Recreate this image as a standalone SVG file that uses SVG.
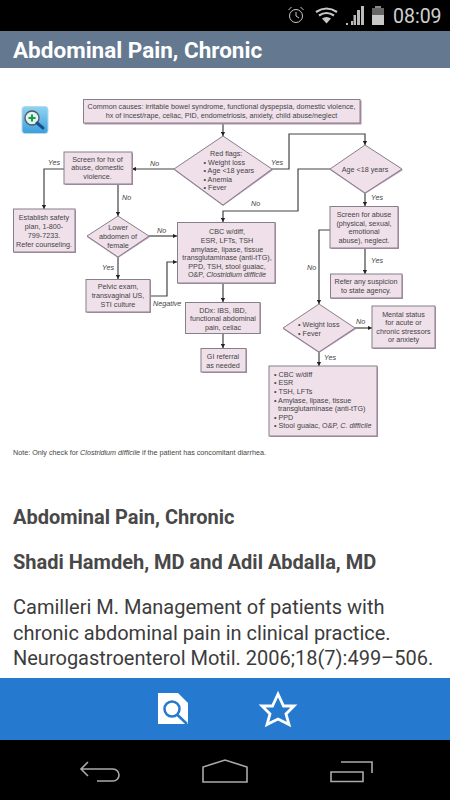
<svg xmlns="http://www.w3.org/2000/svg" width="450" height="800" viewBox="0 0 450 800">
<style>
.n{fill:#efe0ea;stroke:#85808a;stroke-width:1}
.s{fill:#b58fb0}
.t{font-family:"Liberation Sans",Arial,sans-serif;font-size:7.2px;fill:#444;text-anchor:middle}
.l{text-anchor:start}
.y{font-family:"Liberation Sans",Arial,sans-serif;font-size:7.2px;font-style:italic;fill:#444}
.c{fill:none;stroke:#444;stroke-width:1.2}
.r{font-family:Roboto,sans-serif;fill:#3c3c3c}
.h{font-size:20px;font-weight:700;fill:#484848}
.nav{fill:none;stroke:#aaa;stroke-width:1.6}
</style>
<defs>
<marker id="a" markerWidth="5" markerHeight="5" refX="4" refY="2.5" orient="auto" markerUnits="userSpaceOnUse"><path d="M0 0.4L4 2.5L0 4.6z" fill="#222"/></marker>
<linearGradient id="ig" x1="0" y1="0" x2="0" y2="1"><stop offset="0" stop-color="#8fd4f4"/><stop offset="1" stop-color="#3b9fdc"/></linearGradient>
</defs>
<rect width="450" height="800" fill="#fff"/>
<g id="statusbar">
<rect width="450" height="31" fill="#000"/>
<g fill="none" stroke="#c8c8c8" stroke-width="1"><circle cx="296" cy="16" r="6.500"/><path d="M296 12v4l3 2M288.500 10l3-3M303.500 10l-3-3"/></g>
<g fill="none" stroke="#c8c8c8" stroke-width="2.200"><path d="M316 12Q326.500 5 337 12"/><path d="M319 15.500Q326.500 10.500 334 15.500"/></g>
<path d="M322 18.500Q326.500 15.500 331 18.500L326.500 23.500z" fill="#c8c8c8"/>
<path d="M346 25h2v-2h-2zM349 25h2v-4h2v4zM353.500 25h2.500v-10h-2.500zM357 25h3v-15h-3zM361 25h3v-19h-3z" fill="#bbb"/>
<rect x="372" y="8" width="12" height="17" fill="#c8c8c8"/><rect x="372" y="8" width="12" height="7" fill="#666"/><rect x="375" y="6" width="6" height="2" fill="#888"/>
<text x="393" y="23" font-family="Roboto,sans-serif" font-size="19.500" fill="#d0d0d0">08:09</text>
</g>
<g id="titlebar">
<rect y="31" width="450" height="37" fill="#64788f"/>
<text x="13" y="58" font-family="Roboto,sans-serif" font-weight="700" font-size="22.500" fill="#fff">Abdominal Pain, Chronic</text>
</g>
<g id="zoom-icon">
<rect x="22" y="106.500" width="26" height="27" rx="3" fill="url(#ig)" stroke="#b9d8ea"/>
<circle cx="32" cy="118" r="7" fill="#dff3f7" stroke="#555" stroke-width="1.300"/>
<path d="M37 123l6 5" stroke="#1c4f8a" stroke-width="3" stroke-linecap="round"/>
<path d="M32 114.500v7M28.500 118h7" stroke="#17a03a" stroke-width="2"/>
</g>
<g id="connectors">
<path class="c" d="M223 123V136" marker-end="url(#a)"/>
<path class="c" d="M174 169H132" marker-end="url(#a)"/>
<path class="c" d="M64 169H44V209" marker-end="url(#a)"/>
<path class="c" d="M118 184V216" marker-end="url(#a)"/>
<path class="c" d="M149 236H177" marker-end="url(#a)"/>
<path class="c" d="M118 257V279" marker-end="url(#a)"/>
<path class="c" d="M150 296H167V262H177" marker-end="url(#a)"/>
<path class="c" d="M272 169H289V134H365V145" marker-end="url(#a)"/>
<path class="c" d="M330 169H298V211H223V222" marker-end="url(#a)"/>
<path class="c" d="M365 193V206" marker-end="url(#a)"/>
<path class="c" d="M365 248V274" marker-end="url(#a)"/>
<path class="c" d="M330 230H319V304" marker-end="url(#a)"/>
<path class="c" d="M223 283V302" marker-end="url(#a)"/>
<path class="c" d="M223 333V348" marker-end="url(#a)"/>
<path class="c" d="M355 328H372" marker-end="url(#a)"/>
<path class="c" d="M319 352V366" marker-end="url(#a)"/>
</g>
<g id="edge-labels" class="y">
<text x="48" y="165">Yes</text><text x="150" y="166">No</text><text x="122" y="200">No</text>
<text x="157" y="233">No</text><text x="102" y="270">Yes</text><text x="153" y="306">Negative</text>
<text x="271" y="165">Yes</text><text x="251" y="206">No</text><text x="371" y="200">Yes</text>
<text x="371" y="263">Yes</text><text x="307" y="270">No</text><text x="356" y="324">No</text><text x="324" y="360">Yes</text>
</g>
<g id="n-causes"><rect class="s" x="84.500" y="100.500" width="277" height="24"/><rect class="n" x="83.500" y="99.500" width="276.500" height="23.500"/>
<text class="t" x="221.500" y="109">Common causes: irritable bowel syndrome, functional dyspepsia, domestic violence,</text>
<text class="t" x="221.500" y="118">hx of incest/rape, celiac, PID, endometriosis, anxiety, child abuse/neglect</text></g>
<g id="n-redflags"><path class="s" d="M174 170L223 137L273 170L223 206z"/><path class="n" d="M174 169L223 136L272 169L223 205z"/>
<text class="t l" x="210" y="156">Red flags:</text><text class="t l" x="203.500" y="164.500">• Weight loss</text><text class="t l" x="203.500" y="173">• Age &lt;18 years</text><text class="t l" x="203.500" y="181.500">• Anemia</text><text class="t l" x="203.500" y="190">• Fever</text></g>
<g id="n-screen-hx"><rect class="s" x="65" y="153" width="68" height="32"/><rect class="n" x="64" y="152" width="68" height="32"/>
<text class="t" x="97.500" y="161.500">Screen for hx of</text><text class="t" x="97.500" y="170">abuse, domestic</text><text class="t" x="97.500" y="179">violence.</text></g>
<g id="n-safety"><rect class="s" x="14" y="210" width="62" height="43"/><rect class="n" x="13.500" y="209" width="61.500" height="43"/>
<text class="t" x="44" y="220">Establish safety</text><text class="t" x="44" y="229">plan, 1-800-</text><text class="t" x="44" y="237.500">799-7233.</text><text class="t" x="44" y="246.500">Refer counseling.</text></g>
<g id="n-lower"><path class="s" d="M87 237L118 217L150 237L118 258z"/><path class="n" d="M87 236L118 216L149 236L118 257z"/>
<text class="t" x="118" y="230">Lower</text><text class="t" x="118" y="239">abdomen of</text><text class="t" x="118" y="248">female</text></g>
<g id="n-cbc"><rect class="s" x="178" y="223" width="98" height="61"/><rect class="n" x="177.500" y="222.500" width="97.500" height="60.500"/>
<text class="t" x="227" y="234">CBC w/diff,</text><text class="t" x="227" y="243">ESR, LFTs, TSH</text><text class="t" x="227" y="251.500">amylase, lipase, tissue</text><text class="t" x="227" y="260">transglutaminase (anti-tTG),</text><text class="t" x="227" y="268.500">PPD, TSH, stool guaiac,</text><text class="t" x="227" y="277">O&amp;P, <tspan font-style="italic">Clostridium difficile</tspan></text></g>
<g id="n-pelvic"><rect class="s" x="87" y="280" width="64" height="33"/><rect class="n" x="86" y="279.500" width="64" height="32.500"/>
<text class="t" x="118" y="289">Pelvic exam,</text><text class="t" x="118" y="298">transvaginal US,</text><text class="t" x="118" y="306.500">STI culture</text></g>
<g id="n-ddx"><rect class="s" x="186" y="303" width="75" height="31"/><rect class="n" x="185.500" y="302.500" width="74.500" height="31"/>
<text class="t" x="223" y="312.500">DDx: IBS, IBD,</text><text class="t" x="223" y="321">functional abdominal</text><text class="t" x="223" y="330">pain, celiac</text></g>
<g id="n-gi"><rect class="s" x="202" y="349" width="45" height="24"/><rect class="n" x="201" y="348.500" width="45" height="23.500"/>
<text class="t" x="223" y="359">GI referral</text><text class="t" x="223" y="368">as needed</text></g>
<g id="n-age"><path class="s" d="M330 170L365 146L403 170L365 194z"/><path class="n" d="M330 169L365 145L402 169L365 193z"/>
<text class="t" x="365" y="172">Age &lt;18 years</text></g>
<g id="n-screen-abuse"><rect class="s" x="331" y="207" width="68" height="42"/><rect class="n" x="330" y="206.500" width="68" height="41.500"/>
<text class="t" x="364" y="217">Screen for abuse</text><text class="t" x="364" y="225.500">(physical, sexual,</text><text class="t" x="364" y="234">emotional</text><text class="t" x="364" y="242.500">abuse), neglect.</text></g>
<g id="n-refer"><rect class="s" x="331" y="275" width="72" height="24"/><rect class="n" x="330.500" y="274" width="71.500" height="24"/>
<text class="t" x="366" y="284">Refer any suspicion</text><text class="t" x="366" y="293">to state agency.</text></g>
<g id="n-weight"><path class="s" d="M283 329L319 305L356 329L319 353z"/><path class="n" d="M283 328L319 304L355 328L319 352z"/>
<text class="t l" x="298" y="327">• Weight loss</text><text class="t l" x="298" y="336">• Fever</text></g>
<g id="n-mental"><rect class="s" x="373" y="307" width="63" height="42"/><rect class="n" x="372" y="306" width="63" height="42"/>
<text class="t" x="403.500" y="316.500">Mental status</text><text class="t" x="403.500" y="325">for acute or</text><text class="t" x="403.500" y="333.500">chronic stressors</text><text class="t" x="403.500" y="342">or anxiety</text></g>
<g id="n-cbc2"><rect class="s" x="270" y="367" width="108" height="70"/><rect class="n" x="269" y="366" width="108" height="70"/>
<text class="t l" x="274" y="376.500">• CBC w/diff</text><text class="t l" x="274" y="385">• ESR</text><text class="t l" x="274" y="394">• TSH, LFTs</text><text class="t l" x="274" y="402.500">• Amylase, lipase, tissue</text><text class="t l" x="278" y="411">transglutaminase (anti-tTG)</text><text class="t l" x="274" y="419.500">• PPD</text><text class="t l" x="274" y="428">• Stool guaiac, O&amp;P, <tspan font-style="italic">C. difficile</tspan></text></g>
<text id="note" class="t l" x="13" y="455">Note: Only check for <tspan font-style="italic">Clostridium difficile</tspan> if the patient has concomitant diarrhea.</text>
<g id="body">
<text class="r h" x="13" y="524">Abdominal Pain, Chronic</text>
<text class="r h" x="13" y="569">Shadi Hamdeh, MD and Adil Abdalla, MD</text>
<text class="r" x="13" y="614" font-size="20">Camilleri M. Management of patients with</text>
<text class="r" x="13" y="640" font-size="20">chronic abdominal pain in clinical practice.</text>
<text class="r" x="13" y="665" font-size="20">Neurogastroenterol Motil. 2006;18(7):499–506.</text>
</g>
<g id="actionbar">
<rect y="678" width="450" height="62" fill="#2579cf"/>
<path d="M158 693H178L188 703V724H158z" fill="#fff"/>
<circle cx="172" cy="709" r="7.500" fill="none" stroke="#2579cf" stroke-width="2.500"/>
<path d="M177 714.500L187 724" stroke="#2579cf" stroke-width="2.500"/>
<path d="M278 694L283.500 706H294L286 714L289 724.500L278 719L267 724.500L270 714L262 706H272.500z" fill="none" stroke="#fff" stroke-width="2.800"/>
</g>
<g id="navbar">
<rect y="740" width="450" height="60" fill="#000"/>
<path class="nav" d="M88 762L81 769L88 776M81 769H113A6 6 0 0 1 113 781H97"/>
<path class="nav" d="M203 782V767L225 760L247 767V782z"/>
<path class="nav" d="M331 772H363V781.500H331zM341 762H372V773"/>
</g>
</svg>
